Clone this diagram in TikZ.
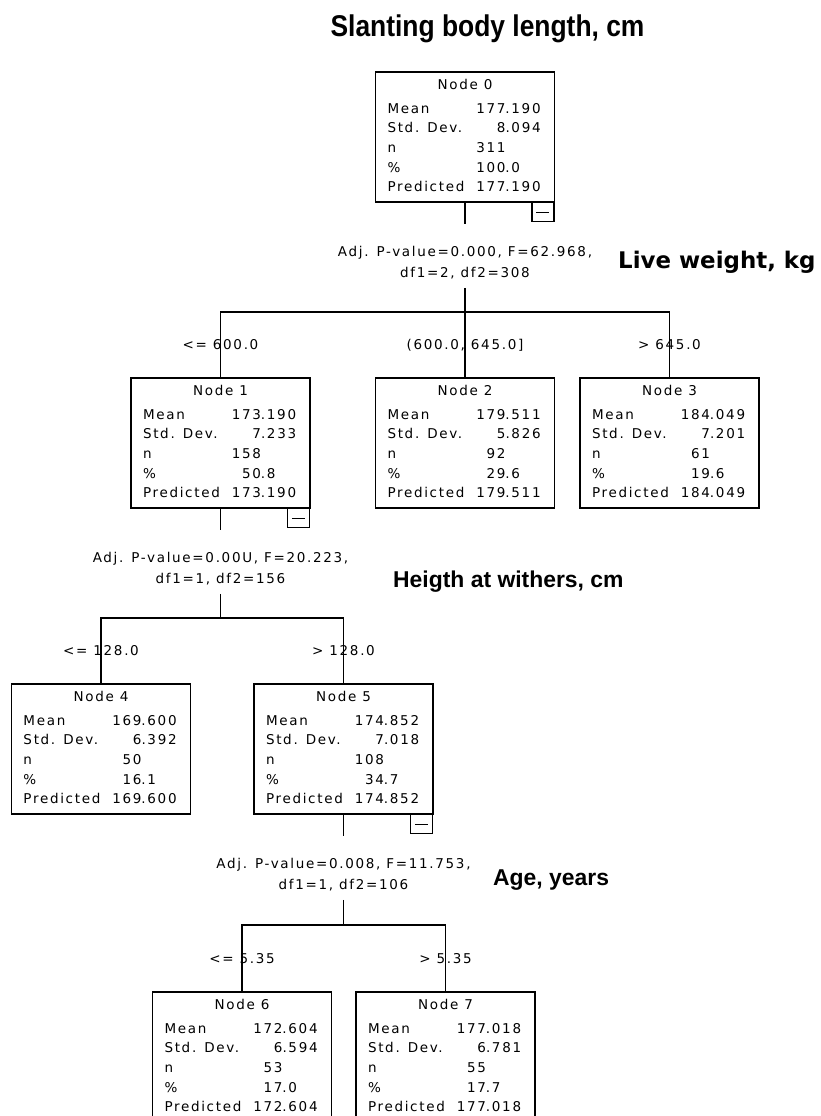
\documentclass[tikz,border=0pt]{standalone}
\usepackage{fontspec}
\setmainfont{Liberation Sans}
\newfontfamily\spssfont[LetterSpace=12.5]{DejaVu Sans}
\newfontfamily\titlefont[FakeStretch=0.88]{Liberation Sans}
\newfontfamily\headfont{Liberation Sans}
\newfontfamily\wideheadfont{DejaVu Sans}

\newcommand\zline[1]{\setbox0\hbox to 179pt{#1}\ht0=0pt \dp0=0pt \box0 }
\def\valsplit#1.#2.#3\relax{\makebox[0pt][r]{#1}\if\relax\detokenize{#2}\relax\else.#2\fi}
\newcommand\valfmt[1]{\valsplit#1..\relax}
\newcommand\statrow[2]{\zline{\hskip12pt\rlap{#1}\hskip118pt\valfmt{#2}\hss}}
\newcommand\statcontent[6]{\vbox to 130pt{\offinterlineskip
 \vskip17.9pt\zline{\hss#1\hss}%
 \vskip23.3pt\statrow{Mean}{#2}%
 \vskip19.6pt\statrow{Std. Dev.}{#3}%
 \vskip19.6pt\statrow{n}{#4}%
 \vskip19.6pt\statrow{\%}{#5}%
 \vskip19.6pt\statrow{Predicted}{#6}%
 \vss}}

\tikzset{
 statbox/.style={draw, line width=1.3pt, inner sep=0pt, outer sep=0pt, anchor=north,
   font=\spssfont\fontsize{13.5}{19.6}\selectfont},
 collapse/.style={draw, line width=1.3pt, fill=white, minimum width=22pt, minimum height=19pt,
   inner sep=0pt, anchor=north east,
   path picture={\draw[line width=1.3pt] ([xshift=-6.5pt]path picture bounding box.center) -- ([xshift=6.5pt]path picture bounding box.center);}},
 splitlabel/.style={align=center, inner sep=0pt, font=\spssfont\fontsize{13.5}{21.5}\selectfont},
 edgelabel/.style={inner sep=0pt, font=\spssfont\fontsize{13.5}{15}\selectfont},
 connector/.style={line width=1.3pt},
 heading/.style={font=\headfont\bfseries\fontsize{22.9}{27}\selectfont, anchor=base west, inner sep=0pt},
 wideheading/.style={font=\wideheadfont\bfseries\fontsize{22.9}{27}\selectfont, anchor=base west, inner sep=0pt},
 maintitle/.style={font=\titlefont\bfseries\fontsize{30}{34}\selectfont, anchor=base, inner sep=0pt},
}

\begin{document}
\begin{tikzpicture}[x=1pt, y=-1pt]
\useasboundingbox (0,0) rectangle (820,1116);

\node[maintitle] (title) at (487.5,37) {Slanting body length, cm};

% level 0
\node[statbox] (n0) at (465,72) {\statcontent{Node 0}{177.190}{8.094}{311}{100.0}{177.190}};
\node[collapse] (c0) at (n0.south east) {};
\node[splitlabel] (s0) at (465,262.5) {Adj. P-value=0.000, F=62.968,\\df1=2, df2=308};
\node[wideheading] (h0) at (618,268) {Live weight, kg};
\coordinate (j0) at (465,312);
\draw[connector, shorten >=21.6pt] (n0.south) -- (s0.north);
\draw[connector, shorten <=8.6pt] (s0.south) -- (j0);

% level 1
\node[statbox] (n1) at (220.5,378) {\statcontent{Node 1}{173.190}{7.233}{158}{50.8}{173.190}};
\node[statbox] (n2) at (465,378) {\statcontent{Node 2}{179.511}{5.826}{92}{29.6}{179.511}};
\node[statbox] (n3) at (669.5,378) {\statcontent{Node 3}{184.049}{7.201}{61}{19.6}{184.049}};
\draw[connector] (j0) -| node[edgelabel, pos=0.75] (e1) {<= 600.0} (n1.north);
\draw[connector] (j0) -- node[edgelabel] (e2) {(600.0, 645.0]} (n2.north);
\draw[connector] (j0) -| node[edgelabel, pos=0.75] (e3) {> 645.0} (n3.north);
\node[collapse] (c1) at (n1.south east) {};
\node[splitlabel] (s1) at (220.5,568.5) {Adj. P-value=0.00U, F=20.223,\\df1=1, df2=156};
\node[heading] (h1) at (393,587) {Heigth at withers, cm};
\coordinate (j1) at (220.5,618);
\draw[connector, shorten >=21.6pt] (n1.south) -- (s1.north);
\draw[connector, shorten <=8.6pt] (s1.south) -- (j1);

% level 2
\node[statbox] (n4) at (101,684) {\statcontent{Node 4}{169.600}{6.392}{50}{16.1}{169.600}};
\node[statbox] (n5) at (343.5,684) {\statcontent{Node 5}{174.852}{7.018}{108}{34.7}{174.852}};
\draw[connector] (j1) -| node[edgelabel, pos=0.75] (e4) {<= 128.0} (n4.north);
\draw[connector] (j1) -| node[edgelabel, pos=0.75] (e5) {> 128.0} (n5.north);
\node[collapse] (c5) at (n5.south east) {};
\node[splitlabel] (s2) at (343.5,874.5) {Adj. P-value=0.008, F=11.753,\\df1=1, df2=106};
\node[heading] (h2) at (493,885) {Age, years};
\coordinate (j2) at (343.5,925);
\draw[connector, shorten >=21.6pt] (n5.south) -- (s2.north);
\draw[connector, shorten <=8.6pt] (s2.south) -- (j2);

% level 3
\node[statbox] (n6) at (242,992) {\statcontent{Node 6}{172.604}{6.594}{53}{17.0}{172.604}};
\node[statbox] (n7) at (445.5,992) {\statcontent{Node 7}{177.018}{6.781}{55}{17.7}{177.018}};
\draw[connector] (j2) -| node[edgelabel, pos=0.75] (e6) {<= 5.35} (n6.north);
\draw[connector] (j2) -| node[edgelabel, pos=0.75] (e7) {> 5.35} (n7.north);
\end{tikzpicture}
\end{document}
